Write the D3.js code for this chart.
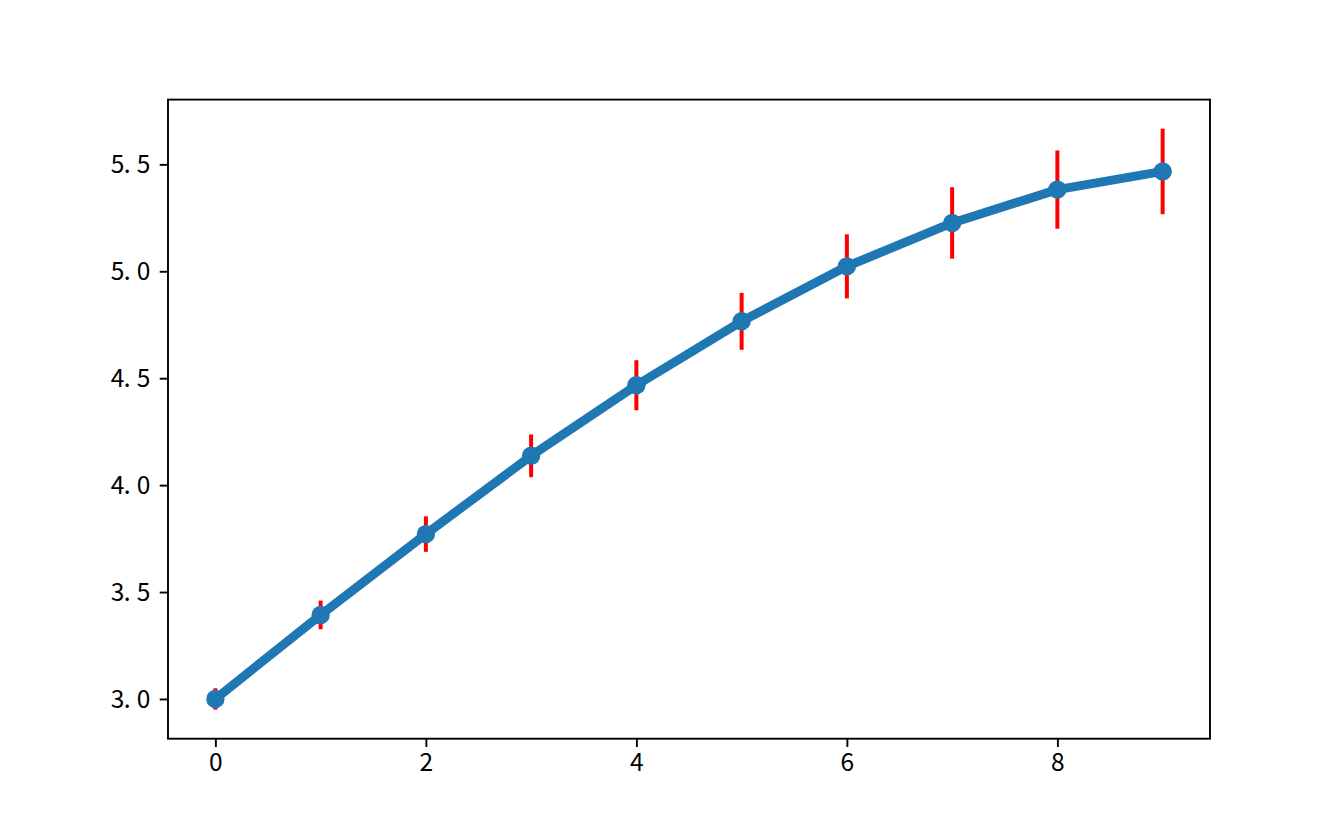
<!DOCTYPE html>
<html>
<head>
<meta charset="utf-8">
<script src="https://cdn.jsdelivr.net/npm/d3@7"></script>
<style>
  html, body { margin: 0; padding: 0; background: #fff; }
  svg { display: block; }
  text { font-family: "Noto Sans CJK SC", "DejaVu Sans", sans-serif; fill: #000; }
</style>
</head>
<body>
<svg id="chart" width="1344" height="830"></svg>
<script>
const xValues = [0, 1, 2, 3, 4, 5, 6, 7, 8, 9];
const yValues = [3.0, 3.393, 3.771, 4.137, 4.467, 4.766, 5.023, 5.226, 5.382, 5.467];
const yErrors = [0.05, 0.067, 0.083, 0.1, 0.117, 0.133, 0.15, 0.167, 0.183, 0.2];
const xTicks = [0, 2, 4, 6, 8];
const yTicks = [3.0, 3.5, 4.0, 4.5, 5.0, 5.5];

const plotLeft = 168, plotRight = 1210, plotTop = 99.6, plotBottom = 738.7;

const svg = d3.select("#chart");

// matplotlib-like 5% margins
const xmin = d3.min(xValues), xmax = d3.max(xValues);
const xm = (xmax - xmin) * 0.05;
const ylo = d3.min(yValues.map((v, i) => v - yErrors[i]));
const yhi = d3.max(yValues.map((v, i) => v + yErrors[i]));
const ym = (yhi - ylo) * 0.05;

const x = d3.scaleLinear().domain([xmin - xm, xmax + xm]).range([plotLeft, plotRight]);
const y = d3.scaleLinear().domain([ylo - ym, yhi + ym]).range([plotBottom, plotTop]);

const data = xValues.map((d, i) => ({x: d, y: yValues[i], e: yErrors[i]}));

const plot = svg.append("g");

// error bars
plot.selectAll("line.err").data(data).enter().append("line")
  .attr("class", "err")
  .attr("x1", d => x(d.x)).attr("x2", d => x(d.x))
  .attr("y1", d => y(d.y - d.e)).attr("y2", d => y(d.y + d.e))
  .attr("stroke", "#ff0000").attr("stroke-width", 4);

// line
plot.append("path").datum(data)
  .attr("d", d3.line().x(d => x(d.x)).y(d => y(d.y)))
  .attr("fill", "none").attr("stroke", "#1f77b4")
  .attr("stroke-width", 9).attr("stroke-linejoin", "round").attr("stroke-linecap", "butt");

// markers
plot.selectAll("circle").data(data).enter().append("circle")
  .attr("cx", d => x(d.x)).attr("cy", d => y(d.y)).attr("r", 9.2)
  .attr("fill", "#1f77b4");

// frame
svg.append("rect").attr("x", plotLeft).attr("y", plotTop)
  .attr("width", plotRight - plotLeft).attr("height", plotBottom - plotTop)
  .attr("fill", "none").attr("stroke", "#000").attr("stroke-width", 1.9);

// axes
const fs = 24.5;
const xAxis = d3.axisBottom(x).tickValues(xTicks).tickSize(8.3).tickPadding(8).tickFormat(d3.format("d"));
const gx = svg.append("g").attr("transform", `translate(0,${plotBottom})`).call(xAxis);
gx.select(".domain").remove();
gx.selectAll(".tick line").attr("stroke", "#000").attr("stroke-width", 1.9);
gx.selectAll(".tick text").attr("font-size", fs).attr("font-family", "Noto Sans CJK SC").attr("dy", "0.8em").attr("y", 13);

const yAxis = d3.axisLeft(y).tickValues(yTicks).tickSize(8.3).tickPadding(11).tickFormat(d3.format(".1f"));
const gy = svg.append("g").attr("transform", `translate(${plotLeft},0)`).call(yAxis);
gy.select(".domain").remove();
gy.selectAll(".tick line").attr("stroke", "#000").attr("stroke-width", 1.9);
// monospace-like cell spacing (half-width CJK look: "5. 5")
const adv = 13;
gy.selectAll(".tick text").each(function(d) {
  const t = d3.select(this);
  const s = d3.format(".1f")(d);
  const endX = -8.3 - 11;
  const xs = s.split("").map((c, i) => endX - (s.length - i) * adv + 1);
  t.attr("text-anchor", "start").attr("font-size", fs).attr("font-family", "Noto Sans CJK SC")
   .attr("x", xs.join(" ")).attr("dy", "0.35em").text(s);
});
</script>
</body>
</html>
